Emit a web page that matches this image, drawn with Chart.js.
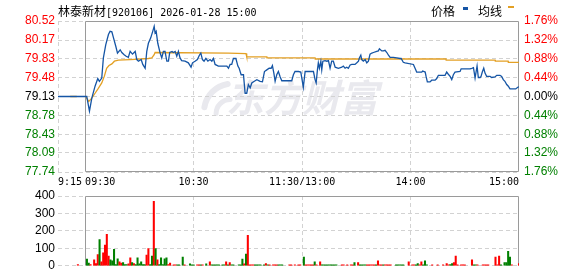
<!DOCTYPE html>
<html>
<head>
<meta charset="utf-8">
<script src="https://cdn.jsdelivr.net/npm/chart.js@4.4.1/dist/chart.umd.min.js"></script>
<style>
  html, body { margin: 0; padding: 0; background: #fff; }
  #wrap { position: relative; width: 578px; height: 276px; overflow: hidden; }
  canvas { position: absolute; left: 0; }
  #price { top: 0; }
  #vol { top: 185px; }
  .txt { position: absolute; top: 2px; line-height: 14px; color: #000; white-space: nowrap; }
  .cn { font: 12px "Noto Sans CJK SC"; }
  .mono { font: 10px "DejaVu Sans Mono"; }
  .sw { position: absolute; display: block; }
</style>
</head>
<body>
<div id="wrap">
  <canvas id="price" width="578" height="185"></canvas>
  <canvas id="vol" width="578" height="91"></canvas>
  <div class="txt" style="left:58px"><span class="cn">林泰新材</span><span class="mono">[920106] 2026-01-28 15:00</span></div>
  <div class="txt cn" style="left:431px">价格</div>
  <i class="sw" style="left:463px;top:7px;width:5px;height:3px;background:#1555a5"></i>
  <div class="txt cn" style="left:478px">均线</div>
  <i class="sw" style="left:508px;top:6px;width:6px;height:2px;background:#e3a024"></i>
</div>
<script>
// minutes after 09:30 in trading time (13:00 = 120), pre-market from -15 (9:15)
const prevClose = 79.13;
const priceTicks = [80.52, 80.17, 79.83, 79.48, 79.13, 78.78, 78.43, 78.09, 77.74];
const pctLabels = ['1.76%', '1.32%', '0.88%', '0.44%', '0.00%', '0.44%', '0.88%', '1.32%', '1.76%'];
const timeTicks = [-15, 0, 60, 120, 180, 240];
const timeLabels = ['9:15', '09:30', '10:30', '11:30/13:00', '14:00', '15:00'];
const volTicks = [0, 100, 200, 300, 400];

const priceMins = [
  -15, 0.9, 2.4, 3.7, 5.5, 7.0, 7.9, 9.2, 10.1, 11.4,
  12.9, 13.8, 14.8, 15.7, 17.0, 17.9, 19.4, 20.3, 21.6, 22.7,
  23.9, 24.9, 26.2, 27.7, 28.6, 29.5, 31.0, 31.9, 33.2, 34.1,
  35.0, 36.3, 37.4, 38.2, 38.7, 39.3, 40.2, 41.5, 42.4, 43.3,
  44.2, 45.2, 46.1, 46.8, 48.1, 48.8, 49.8, 50.7, 51.6, 52.5,
  53.4, 55.3, 57.1, 58.6, 59.4, 60.8, 62.1, 63.2, 64.0, 64.9,
  65.8, 66.8, 67.9, 69.1, 70.1, 71.0, 71.9, 73.7, 78.4, 79.3,
  80.2, 81.1, 82.0, 83.4, 84.5, 85.2, 86.3, 87.6, 88.5, 89.4,
  90.3, 91.3, 92.2, 93.6, 95.0, 96.8, 98.1, 99.2, 100.5, 101.8,
  102.9, 103.6, 104.4, 105.1, 106.0, 106.9, 107.9, 108.8, 110.6, 114.3,
  115.2, 116.1, 118.0, 119.3, 120.0, 120.7, 121.7, 126.3, 127.2, 127.8,
  128.5, 129.0, 129.6, 130.4, 130.9, 131.5, 132.7, 133.7, 134.6, 135.5,
  136.4, 137.3, 138.3, 140.1, 142.0, 142.8, 143.8, 144.7, 145.6, 146.6,
  147.5, 149.3, 150.3, 151.2, 151.7, 152.5, 153.0, 153.9, 154.9, 155.8,
  156.7, 157.6, 158.6, 159.5, 161.3, 162.2, 162.8, 164.1, 165.0, 165.9,
  166.9, 167.8, 168.7, 170.5, 172.4, 174.2, 174.8, 176.0, 177.0, 181.6,
  182.5, 183.4, 184.3, 186.2, 186.7, 188.1, 188.6, 189.3, 190.8, 191.7,
  193.6, 194.5, 195.4, 199.1, 200.0, 200.9, 201.9, 202.8, 203.7, 204.6,
  207.4, 208.0, 210.2, 212.9, 213.9, 214.8, 215.3, 215.7, 216.3, 216.8,
  217.5, 218.5, 219.0, 219.7, 220.5, 221.2, 222.1, 224.0, 224.9, 226.7,
  227.7, 229.5, 230.4, 231.3, 232.2, 233.2, 234.1, 235.0, 238.2, 239.3,
  240.0
];
const prices = [
  79.13, 79.13, 78.86, 79.10, 79.32, 79.46, 79.41, 79.47, 79.84, 80.08,
  80.27, 80.33, 80.32, 80.21, 80.05, 79.93, 79.99, 79.94, 79.90, 79.87,
  79.85, 79.96, 79.91, 79.96, 79.81, 79.78, 79.81, 79.72, 79.65, 79.96,
  80.11, 80.21, 80.33, 80.42, 80.30, 80.33, 80.11, 79.93, 79.84, 79.96,
  79.96, 79.78, 79.78, 79.94, 79.96, 79.94, 79.96, 79.87, 79.96, 79.84,
  79.79, 79.78, 79.75, 79.67, 79.75, 79.78, 79.81, 79.89, 79.93, 79.81,
  79.78, 79.83, 79.78, 79.81, 79.78, 79.83, 79.72, 79.69, 79.69, 79.65,
  79.72, 79.72, 79.83, 79.83, 79.69, 79.65, 79.53, 79.53, 79.19, 79.19,
  79.35, 79.29, 79.38, 79.41, 79.44, 79.41, 79.40, 79.59, 79.62, 79.65,
  79.65, 79.70, 79.56, 79.41, 79.53, 79.59, 79.49, 79.42, 79.42, 79.42,
  79.53, 79.59, 79.59, 79.58, 79.44, 79.30, 79.59, 79.59, 79.44, 79.38,
  79.62, 79.75, 79.65, 79.78, 79.62, 79.78, 79.79, 79.78, 79.79, 79.65,
  79.78, 79.78, 79.67, 79.65, 79.67, 79.69, 79.65, 79.67, 79.65, 79.71,
  79.72, 79.72, 79.75, 79.78, 79.84, 79.89, 79.81, 79.78, 79.81, 79.75,
  79.78, 79.91, 79.93, 79.94, 79.96, 79.97, 80.01, 79.97, 79.97, 79.98,
  79.94, 79.89, 79.85, 79.85, 79.84, 79.83, 79.83, 79.76, 79.75, 79.72,
  79.65, 79.58, 79.58, 79.58, 79.60, 79.58, 79.50, 79.40, 79.40, 79.43,
  79.43, 79.46, 79.52, 79.52, 79.58, 79.54, 79.50, 79.44, 79.53, 79.58,
  79.59, 79.64, 79.64, 79.64, 79.65, 79.66, 79.56, 79.47, 79.59, 79.69,
  79.48, 79.48, 79.50, 79.58, 79.65, 79.56, 79.50, 79.50, 79.48, 79.49,
  79.52, 79.52, 79.50, 79.44, 79.41, 79.35, 79.32, 79.27, 79.27, 79.30,
  79.31
];

const avgMins = [
  -8.3, -4.6, -2, 0.5, 2.0, 3.7, 5.5, 7.3, 9.2, 10.6,
  11.9, 13.2, 14.8, 16.2, 18.4, 24.9, 35.0, 36.9, 38.2, 38.7,
  79.3, 89.0, 89.4, 100.5, 100.6, 127.2, 127.3, 199.6, 199.7, 226.8,
  226.9, 234.0, 234.1, 240
];
const avgPrices = [
  79.13, 79.13, null, 79.12, 79.04, 79.10, 79.19, 79.28, 79.38, 79.50,
  79.65, 79.70, 79.73, 79.78, 79.80, 79.81, 79.83, 79.84, 79.90, 79.94,
  79.93, 79.92, 79.86, 79.86, 79.84, 79.84, 79.82, 79.82, 79.80, 79.80,
  79.78, 79.78, 79.76, 79.76
];

const volMins = [
  -4, 1, 2, 3, 5, 6, 7, 8, 9, 10,
  11, 12, 13, 14, 15, 16, 17, 18, 19, 20,
  21, 22, 23, 24, 25, 26, 27, 28, 29, 30,
  31, 32, 33, 34, 35, 36, 37, 38, 39, 40,
  41, 42, 43, 44, 45, 46, 47, 49, 50, 51,
  52, 54, 55, 58, 59, 60, 62, 63, 64, 65,
  67, 69, 70, 71, 72, 73, 74, 76, 77, 78,
  79, 80, 81, 82, 85, 86, 87, 88, 89, 90,
  91, 92, 93, 94, 95, 96, 97, 99, 100, 101,
  102, 104, 105, 106, 107, 108, 109, 113, 114, 116,
  118, 119, 121, 122, 123, 124, 125, 126, 127, 128,
  130, 131, 132, 133, 134, 135, 136, 137, 138, 139,
  142, 143, 145, 147, 148, 149, 151, 152, 153, 154,
  155, 156, 157, 158, 159, 160, 161, 162, 163, 164,
  165, 166, 167, 168, 169, 172, 173, 174, 175, 176,
  179, 181, 182, 183, 184, 185, 186, 187, 188, 189,
  192, 195, 198, 200, 201, 202, 203, 204, 205, 206,
  208, 209, 210, 214, 215, 216, 217, 220, 221, 222,
  223, 227, 228, 229, 230, 232, 233, 234, 235, 236,
  240
];
const volumes = [
  7, 38, 16, 7, 34, 13, 65, 150, 23, 74,
  119, 180, 56, 34, 29, 94, 7, 40, 23, 16,
  18, 7, 7, 11, 45, 18, 13, 7, 45, 11,
  23, 7, 7, 61, 99, 7, 56, 369, 99, 34,
  7, 45, 7, 40, 45, 7, 16, 5, 5, 5,
  5, 50, 5, 11, 5, 5, 5, 5, 5, 5,
  11, 23, 5, 5, 5, 5, 5, 5, 5, 23,
  5, 18, 5, 5, 5, 5, 38, 11, 67, 175,
  5, 5, 5, 5, 5, 5, 5, 5, 13, 5,
  5, 5, 5, 5, 5, 5, 5, 5, 5, 5,
  5, 5, 50, 5, 5, 5, 5, 5, 23, 5,
  23, 5, 5, 5, 5, 5, 5, 5, 5, 5,
  5, 5, 5, 5, 5, 18, 18, 5, 5, 5,
  5, 5, 5, 5, 5, 5, 5, 29, 5, 5,
  5, 5, 5, 5, 5, 5, 5, 5, 5, 5,
  23, 5, 5, 5, 13, 5, 23, 5, 29, 5,
  5, 5, 5, 13, 5, 7, 13, 18, 56, 5,
  5, 5, 5, 34, 5, 5, 5, 5, 5, 5,
  5, 50, 5, 56, 5, 18, 18, 83, 50, 5,
  13
];
// 1 = price up in that minute (red), 0 = down (green)
const volUp = [
  1, 0, 0, 1, 1, 1, 1, 0, 1, 1,
  1, 1, 1, 0, 0, 0, 0, 0, 1, 1,
  0, 0, 0, 1, 1, 0, 1, 0, 0, 0,
  0, 0, 0, 1, 1, 0, 0, 1, 0, 1,
  0, 0, 0, 0, 0, 1, 1, 1, 1, 0,
  0, 0, 1, 0, 0, 0, 1, 1, 0, 1,
  0, 1, 0, 0, 0, 0, 0, 0, 0, 1,
  0, 1, 0, 0, 0, 0, 0, 1, 0, 1,
  1, 1, 1, 0, 0, 0, 0, 0, 1, 0,
  1, 1, 1, 1, 0, 0, 0, 1, 1, 1,
  1, 1, 0, 1, 1, 1, 1, 1, 0, 1,
  1, 0, 0, 0, 0, 0, 0, 0, 0, 0,
  1, 1, 1, 1, 1, 0, 1, 0, 0, 0,
  0, 1, 1, 1, 1, 1, 0, 1, 1, 1,
  0, 1, 1, 1, 1, 0, 0, 0, 0, 0,
  1, 1, 1, 0, 0, 1, 1, 0, 0, 0,
  1, 1, 1, 1, 1, 0, 0, 1, 1, 1,
  1, 1, 1, 1, 0, 0, 1, 1, 1, 1,
  1, 1, 1, 1, 0, 0, 0, 0, 0, 1,
  1
];

const RED = '#ff0000', GREEN = '#008000';
const GRID = '#d2d2d2';
Chart.defaults.font.family = 'Liberation Sans';
Chart.defaults.font.size = 12;

function tickColor(v) {
  if (Math.abs(v - prevClose) < 0.001) return '#000';
  return v > prevClose ? RED : GREEN;
}

// grey frame around the trading session (09:30 - 15:00)
const framePlugin = {
  id: 'frame',
  beforeDatasetsDraw(chart, args, opts) {
    const { ctx, chartArea, scales } = chart;
    const x0 = Math.round(scales.x.getPixelForValue(0)) + 0.5;
    const x1 = Math.round(scales.x.getPixelForValue(240)) - 0.5;
    const t = Math.round(chartArea.top) + 0.5;
    const b = Math.round(chartArea.bottom) - 0.5;
    ctx.save();
    ctx.strokeStyle = '#9a9a9a';
    ctx.lineWidth = 1;
    ctx.beginPath();
    ctx.moveTo(x0, b); ctx.lineTo(x0, t); ctx.lineTo(x1, t); ctx.lineTo(x1, b);
    if (opts.bottom) ctx.lineTo(x0, b);
    ctx.stroke();
    ctx.restore();
  }
};

const timeLabelPlugin = {
  id: 'timeLabels',
  afterDraw(chart) {
    const { ctx, chartArea, scales } = chart;
    ctx.save();
    ctx.font = '10px "DejaVu Sans Mono"';
    ctx.fillStyle = '#000';
    ctx.textBaseline = 'middle';
    timeTicks.forEach((v, i) => {
      ctx.textAlign = i < 2 ? 'left' : (i === timeTicks.length - 1 ? 'right' : 'center');
      ctx.fillText(timeLabels[i], scales.x.getPixelForValue(v), chartArea.bottom + 10);
    });
    ctx.restore();
  }
};

const watermarkPlugin = {
  id: 'watermark',
  beforeDraw(chart) {
    const { ctx, scales } = chart;
    const cx = scales.x.getPixelForValue(120);
    const cy = scales.y.getPixelForValue(79.11);
    ctx.save();
    ctx.fillStyle = '#e9e9ee';
    ctx.strokeStyle = '#e9e9ee';
    ctx.font = 'italic bold 38px "Noto Sans CJK SC"';
    ctx.textAlign = 'center';
    ctx.textBaseline = 'middle';
    ctx.fillText('东方财富', cx, cy);
    // swoosh logo
    ctx.lineCap = 'round';
    ctx.lineWidth = 6;
    ctx.beginPath();
    ctx.arc(cx - 70, cy + 14, 28, Math.PI * 1.05, Math.PI * 1.45);
    ctx.stroke();
    ctx.lineWidth = 5;
    ctx.beginPath();
    ctx.arc(cx - 72, cy + 16, 14, Math.PI * 1.0, Math.PI * 1.5);
    ctx.stroke();
    ctx.restore();
  }
};

const dash = [4, 3];

new Chart(document.getElementById('price'), {
  type: 'line',
  data: {
    datasets: [
      {
        data: priceMins.map((m, i) => ({ x: m, y: prices[i] })),
        borderColor: '#1555a5', borderWidth: 1.3, pointRadius: 0, tension: 0
      },
      {
        data: avgMins.map((m, i) => ({ x: m, y: avgPrices[i] })),
        borderColor: '#e3a024', borderWidth: 1.3, pointRadius: 0, tension: 0, spanGaps: false
      }
    ]
  },
  options: {
    responsive: false, animation: false, events: [],
    layout: { padding: { top: 21, left: 0, right: 0, bottom: 0 } },
    plugins: { legend: { display: false }, tooltip: { enabled: false }, frame: { bottom: true } },
    scales: {
      x: {
        type: 'linear', min: -15, max: 240, offset: false,
        afterBuildTicks: s => { s.ticks = [-15, 60, 120, 180].map(v => ({ value: v })); },
        afterFit: s => { s.height = 13; },
        ticks: { display: false },
        grid: { color: GRID, drawTicks: false },
        border: { display: false, dash: dash }
      },
      y: {
        position: 'left', min: 77.74, max: 80.52,
        afterBuildTicks: s => { s.ticks = priceTicks.map(v => ({ value: v })); },
        afterFit: s => { s.width = 58; },
        ticks: { padding: 3, color: c => tickColor(c.tick.value), callback: v => v.toFixed(2) },
        grid: { color: GRID, drawTicks: false },
        border: { display: false, dash: dash }
      },
      y2: {
        position: 'right', min: 77.74, max: 80.52,
        afterBuildTicks: s => { s.ticks = priceTicks.map(v => ({ value: v })); },
        afterFit: s => { s.width = 59; },
        ticks: { padding: 5, color: c => tickColor(c.tick.value), callback: (v, i) => pctLabels[i] },
        grid: { display: false, drawTicks: false },
        border: { display: false }
      }
    }
  },
  plugins: [watermarkPlugin, framePlugin, timeLabelPlugin]
});

new Chart(document.getElementById('vol'), {
  type: 'bar',
  data: {
    datasets: [{
      data: volMins.map((m, i) => ({ x: m, y: volumes[i] })),
      backgroundColor: volUp.map(u => u ? RED : GREEN),
      barThickness: 1.4
    }]
  },
  options: {
    responsive: false, animation: false, events: [],
    layout: { padding: { top: 11, left: 0, right: 59, bottom: 0 } },
    plugins: { legend: { display: false }, tooltip: { enabled: false }, frame: { bottom: false } },
    scales: {
      x: {
        type: 'linear', min: -15, max: 240, offset: false,
        afterBuildTicks: s => { s.ticks = [60, 120, 180].map(v => ({ value: v })); },
        afterFit: s => { s.height = 6; },
        ticks: { display: false },
        grid: { color: GRID, drawTicks: false, offset: false },
        border: { display: false, dash: dash }
      },
      y: {
        position: 'left', min: 0, max: 400,
        afterBuildTicks: s => { s.ticks = volTicks.map(v => ({ value: v })); },
        afterFit: s => { s.width = 58; },
        ticks: { padding: 3, color: '#000', callback: v => String(v) },
        grid: { color: GRID, drawTicks: false },
        border: { display: false, dash: dash }
      }
    }
  },
  plugins: [framePlugin]
});
</script>
</body>
</html>
